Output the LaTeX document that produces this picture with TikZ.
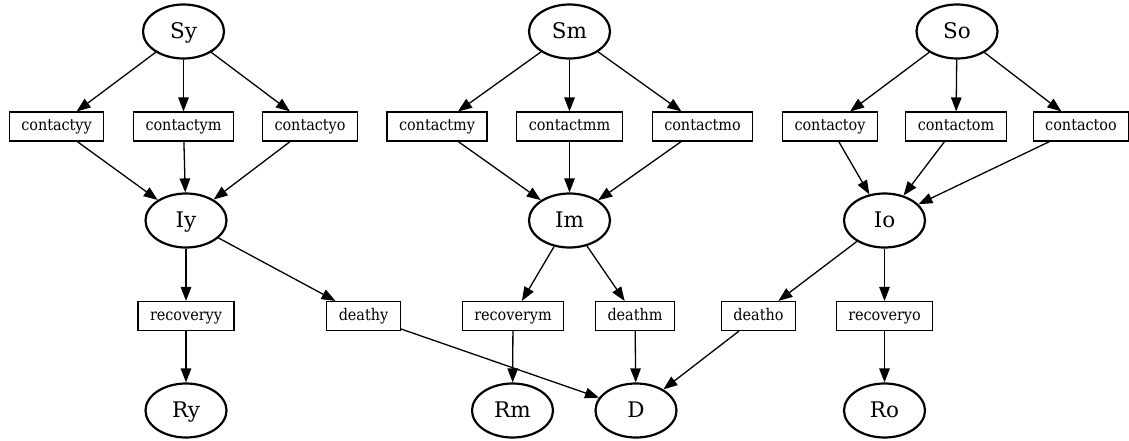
\documentclass[tikz,border=0pt]{standalone}
\usepackage{fontspec}
\setmainfont{DejaVu Serif}
\newfontfamily\ratefont{DejaVu Serif Condensed}
\usetikzlibrary{shapes.geometric,arrows.meta}
\tikzset{
  state/.style={ellipse,draw,line width=2.2pt,minimum width=81pt,minimum height=54pt,inner sep=0pt,text height=16pt,text depth=2.4pt,font=\fontsize{21.5}{24}\selectfont},
  rate/.style={rectangle,draw,line width=1.1pt,minimum height=29pt,inner xsep=12pt,inner ysep=0pt,text height=11pt,text depth=2.6pt,font=\ratefont\fontsize{16}{18}\selectfont},
  flow/.style={line width=1.3pt,-{Triangle[length=14pt,width=10.5pt]}}
}
\begin{document}
\begin{tikzpicture}[x=1pt,y=-1pt]
\useasboundingbox (0,0) rectangle (1129,441);
\node[state] (Sy) at (183.5,31.5) {Sy};
\node[state] (Sm) at (569.5,31.5) {Sm};
\node[state] (So) at (957,31.5) {So};
\node[rate] (cyy) at (56.5,126.5) {contactyy};
\node[rate] (cym) at (183.5,126.5) {contactym};
\node[rate] (cyo) at (310,126.5) {contactyo};
\node[rate] (cmy) at (437,126.5) {contactmy};
\node[rate] (cmm) at (569.5,126.5) {contactmm};
\node[rate] (cmo) at (702.5,126.5) {contactmo};
\node[rate] (coy) at (830,126.5) {contactoy};
\node[rate] (com) at (956,126.5) {contactom};
\node[rate] (coo) at (1081,126.5) {contactoo};
\node[state] (Iy) at (186,220.5) {Iy};
\node[state] (Im) at (569.5,220.5) {Im};
\node[state] (Io) at (884.5,220.5) {Io};
\node[rate] (ry) at (186,316) {recoveryy};
\node[rate] (dy) at (363.5,316) {deathy};
\node[rate] (rm) at (513,316) {recoverym};
\node[rate] (dm) at (635,316) {deathm};
\node[rate] (do) at (758.5,316) {deatho};
\node[rate] (ro) at (884.5,316) {recoveryo};
\node[state] (Ry) at (186,410.5) {Ry};
\node[state] (Rm) at (512.5,410.5) {Rm};
\node[state] (D) at (636,410.5) {D};
\node[state] (Ro) at (884.5,410.5) {Ro};
\draw[flow] (Sy) -- (cyy);
\draw[flow] (Sy) -- (cym);
\draw[flow] (Sy) -- (cyo);
\draw[flow] (Sm) -- (cmy);
\draw[flow] (Sm) -- (cmm);
\draw[flow] (Sm) -- (cmo);
\draw[flow] (So) -- (coy);
\draw[flow] (So) -- (com);
\draw[flow] (So) -- (coo);
\draw[flow] (cyy) -- (Iy);
\draw[flow] (cym) -- (Iy);
\draw[flow] (cyo) -- (Iy);
\draw[flow] (cmy) -- (Im);
\draw[flow] (cmm) -- (Im);
\draw[flow] (cmo) -- (Im);
\draw[flow] (coy) -- (Io);
\draw[flow] (com) -- (Io);
\draw[flow] (coo) -- (Io);
\draw[flow] (Iy) -- (ry);
\draw[flow] (Iy) -- (dy);
\draw[flow] (Im) -- (rm);
\draw[flow] (Im) -- (dm);
\draw[flow] (Io) -- (do);
\draw[flow] (Io) -- (ro);
\draw[flow] (ry) -- (Ry);
\draw[flow] (rm) -- (Rm);
\draw[flow] (ro) -- (Ro);
\draw[flow] (dy) -- (D);
\draw[flow] (dm) -- (D);
\draw[flow] (do) -- (D);
\end{tikzpicture}
\end{document}
